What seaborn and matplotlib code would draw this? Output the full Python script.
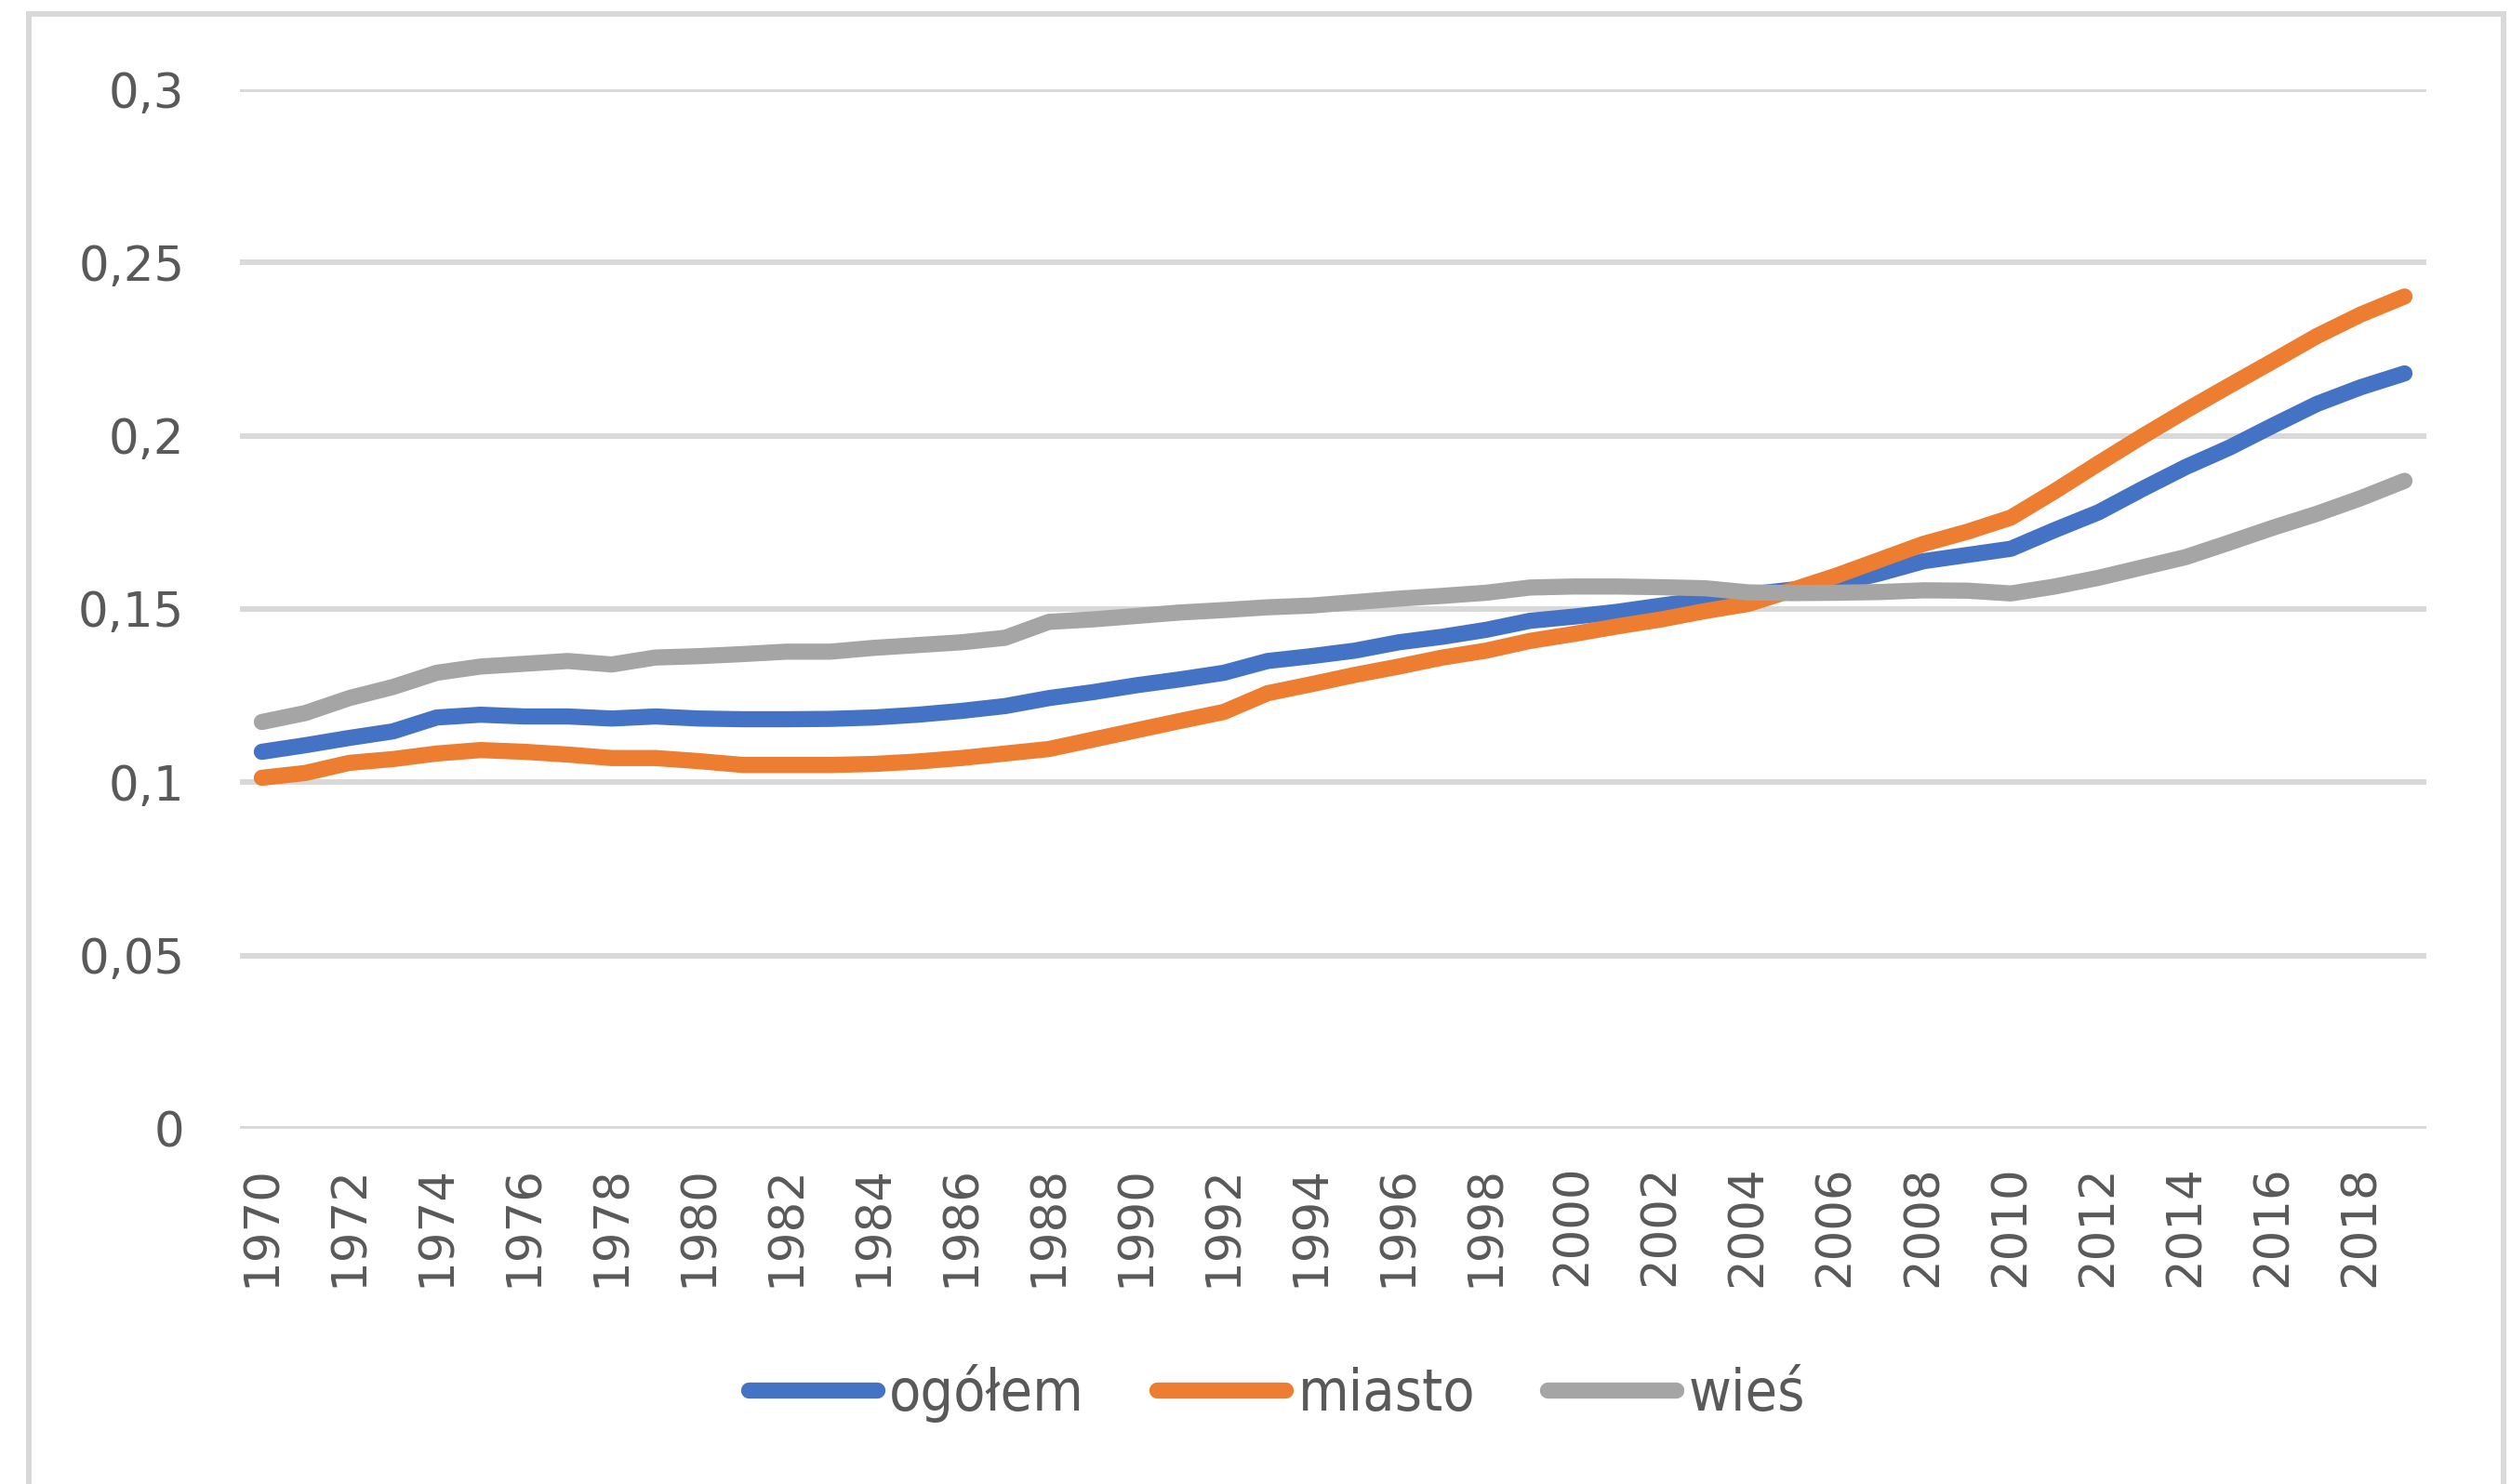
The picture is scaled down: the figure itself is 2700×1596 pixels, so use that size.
import numpy as np
import pandas as pd
import matplotlib
matplotlib.use("Agg")
import matplotlib.pyplot as plt
import seaborn as sns
from matplotlib import font_manager
from matplotlib.patches import Rectangle

years = list(range(1970, 2020))

ogolem = [0.1088, 0.1107, 0.1128, 0.1147, 0.1187, 0.1195, 0.1190, 0.1190, 0.1184, 0.1190,
          0.1184, 0.1182, 0.1182, 0.1183, 0.1187, 0.1195, 0.1206, 0.1220, 0.1243, 0.1260,
          0.1280, 0.1297, 0.1316, 0.1350, 0.1364, 0.1380, 0.1404, 0.1420, 0.1440, 0.1466,
          0.1478, 0.1492, 0.1510, 0.1527, 0.1542, 0.1556, 0.1573, 0.1603, 0.1638, 0.1656,
          0.1674, 0.1728, 0.1779, 0.1846, 0.1910, 0.1966, 0.2030, 0.2092, 0.2140, 0.2180]

miasto = [0.1013, 0.1027, 0.1056, 0.1067, 0.1083, 0.1093, 0.1088, 0.1080, 0.1070, 0.1070,
          0.1061, 0.1050, 0.1050, 0.1050, 0.1053, 0.1060, 0.1070, 0.1083, 0.1096, 0.1123,
          0.1150, 0.1177, 0.1203, 0.1257, 0.1283, 0.1310, 0.1334, 0.1360, 0.1380, 0.1408,
          0.1428, 0.1450, 0.1470, 0.1494, 0.1515, 0.1555, 0.1596, 0.1642, 0.1688, 0.1723,
          0.1764, 0.1840, 0.1920, 0.1998, 0.2073, 0.2145, 0.2216, 0.2288, 0.2350, 0.2402]

wies = [0.1174, 0.1200, 0.1243, 0.1275, 0.1316, 0.1334, 0.1342, 0.1350, 0.1340, 0.1360,
        0.1364, 0.1370, 0.1377, 0.1377, 0.1388, 0.1396, 0.1404, 0.1417, 0.1463, 0.1470,
        0.1480, 0.1490, 0.1497, 0.1505, 0.1510, 0.1520, 0.1530, 0.1538, 0.1547, 0.1562,
        0.1565, 0.1565, 0.1563, 0.1560, 0.1548, 0.1546, 0.1547, 0.1549, 0.1554, 0.1553,
        0.1545, 0.1565, 0.1590, 0.1620, 0.1650, 0.1692, 0.1735, 0.1775, 0.1820, 0.1870]

series_names = ["ogółem", "miasto", "wieś"]
colors = ["#4472C4", "#ED7D31", "#A5A5A5"]
y_ticks = [0, 0.05, 0.1, 0.15, 0.2, 0.25, 0.3]
y_tick_labels = ["0", "0,05", "0,1", "0,15", "0,2", "0,25", "0,3"]

df = pd.DataFrame({"rok": years * 3,
                   "wartosc": ogolem + miasto + wies,
                   "seria": [s for s in series_names for _ in years]})

sns.set_style("white")
plt.rcParams['font.family'] = ['DejaVu Sans']

# czcionka legendy - wąska, jeśli jest
fonts = font_manager.fontManager.ttflist
if any(f.name == "Liberation Sans Narrow" for f in fonts):
    legend_font = font_manager.FontProperties(family=["Liberation Sans Narrow", "DejaVu Sans"], size=50)
    hlen, hpad, cspace = 1.75, 0.2, 1.1
elif any(f.name == "DejaVu Sans" and f.stretch == "condensed" for f in fonts):
    legend_font = font_manager.FontProperties(family=["DejaVu Sans"], stretch="condensed", size=45)
    hlen, hpad, cspace = 2.2, 0.22, 1.25
else:
    legend_font = font_manager.FontProperties(family=["DejaVu Sans"], size=40)
    hlen, hpad, cspace = 2.45, 0.25, 1.4

fig = plt.figure(figsize=(27, 15.96), dpi=100)
ax = fig.add_axes([258 / 2700, 1 - 1214 / 1596, (2609 - 258) / 2700, (1214 - 96) / 1596])

for y in y_ticks:
    ax.axhline(y, color="#D9D9D9", linewidth=4.3, zorder=0)

sns.lineplot(data=df, x="rok", y="wartosc", hue="seria", hue_order=series_names,
             palette=colors, linewidth=12.5, ax=ax, legend=False,
             solid_capstyle="round", solid_joinstyle="round", zorder=3)

ax.set_xlim(years[0] - 0.5, years[-1] + 0.5)
ax.set_ylim(0, 0.3)
ax.set_xticks(years[::2])
ax.set_xticklabels([str(y) for y in years[::2]], rotation=90, fontsize=37, color="#595959")
ax.set_yticks(y_ticks)
ax.set_yticklabels(y_tick_labels, fontsize=37, color="#595959")
ax.tick_params(axis="x", length=0, pad=28)
ax.tick_params(axis="y", length=0, pad=43)
ax.set_xlabel("")
ax.set_ylabel("")
for side in ["top", "right", "left", "bottom"]:
    ax.spines[side].set_visible(False)

# legenda na dole
handles = [plt.Line2D([], [], color=c, linewidth=12.5, solid_capstyle="round") for c in colors]
leg = fig.legend(handles, series_names, loc="center", bbox_to_anchor=(1373 / 2700, 1 - 1498 / 1596),
                 ncol=3, frameon=False, prop=legend_font, handlelength=hlen,
                 handletextpad=hpad, columnspacing=cspace)
for t in leg.get_texts():
    t.set_color("#595959")

# ramka wykresu
fig.patches.append(Rectangle((31 / 2700, -0.02), (2692 - 31) / 2700, 1.02 - 15 / 1596,
                             transform=fig.transFigure, fill=False,
                             edgecolor="#D9D9D9", linewidth=4.3))

plt.savefig("out.png", dpi=100)
plt.close()
